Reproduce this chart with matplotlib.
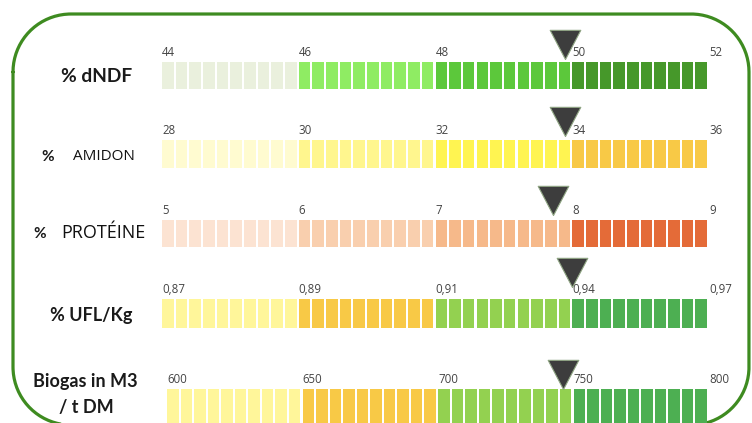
import numpy as np
import matplotlib
matplotlib.use("Agg")
import matplotlib.pyplot as plt
from matplotlib.transforms import ScaledTranslation

# ---------------- data ----------------
row_labels = ["% dNDF", "%  AMIDON", "%  PROTÉINE", "% UFL/Kg", "Biogas in M3\n/ t DM"]
tick_dndf = ["44", "46", "48", "50", "52"]
tick_amidon = ["28", "30", "32", "34", "36"]
tick_proteine = ["5", "6", "7", "8", "9"]
tick_ufl = ["0,87", "0,89", "0,91", "0,94", "0,97"]
tick_biogas = ["600", "650", "700", "750", "800"]
scale_dndf = [44, 46, 48, 50, 52]
scale_amidon = [28, 30, 32, 34, 36]
scale_proteine = [5, 6, 7, 8, 9]
scale_ufl = [0.87, 0.89, 0.91, 0.94, 0.97]
scale_biogas = [600, 650, 700, 750, 800]
values = [49.9, 33.9, 7.86, 0.94, 746]
colors_dndf = ["#EAF0DD", "#8FEC63", "#5CC83B", "#46982A"]
colors_amidon = ["#FFFBD0", "#FFF68E", "#FFF451", "#F8C946"]
colors_proteine = ["#FCE3D2", "#F9CFAE", "#F6B98A", "#E46B38"]
colors_ufl = ["#FFF69A", "#F8C946", "#93D150", "#4DAF52"]
colors_biogas = ["#FFF69A", "#F8C946", "#93D150", "#4DAF52"]
cells_per_segment = 10

ticks_all = [tick_dndf, tick_amidon, tick_proteine, tick_ufl, tick_biogas]
scales_all = [scale_dndf, scale_amidon, scale_proteine, scale_ufl, scale_biogas]
colors_all = [colors_dndf, colors_amidon, colors_proteine, colors_ufl, colors_biogas]

# ---------------- layout (pixels) ----------------
W, H = 752, 423
bar_x0 = [162, 162, 162, 162, 167]
bar_x1 = [709, 709, 709, 709, 709]
bar_top = [62, 140, 220, 299, 389]
bar_h = [27, 28, 27, 29, 34]
marker_gap = [3, 4, 5, 12, 0]

fig = plt.figure(figsize=(W / 100, H / 100), dpi=100)
bg = fig.add_axes([0, 0, 1, 1])
bg.set_xlim(0, W)
bg.set_ylim(H, 0)
bg.axis("off")

# rounded border built from quarter arcs
bx0, by0, bx1, by1, r = 13, 14, 749, 425, 58
def arc(cx, cy, a0, a1):
    t = np.linspace(np.radians(a0), np.radians(a1), 40)
    return cx + r * np.cos(t), cy + r * np.sin(t)
pieces = [arc(bx0 + r, by0 + r, 180, 270), arc(bx1 - r, by0 + r, 270, 360),
          arc(bx1 - r, by1 - r, 0, 90), arc(bx0 + r, by1 - r, 90, 180)]
px = np.concatenate([p[0] for p in pieces] + [pieces[0][0][:1]])
py = np.concatenate([p[1] for p in pieces] + [pieces[0][1][:1]])
bg.plot(px, py, color="#3E8B20", linewidth=2.3, solid_capstyle="round")

# row labels
bold_font = dict(family=["Lato", "DejaVu Sans"], fontweight="bold", color="#1a1a1a")
plain_font = dict(family=["Open Sans", "DejaVu Sans"], color="#111111")
bg.text(97, 76, "% dNDF", ha="center", va="center", fontsize=13.8, **bold_font)
bg.text(48, 157, "%", ha="center", va="center", fontsize=11, **bold_font)
bg.text(104, 157, "AMIDON", ha="center", va="center", fontsize=11, **plain_font)
bg.text(40, 234, "%", ha="center", va="center", fontsize=11, **bold_font)
bg.text(103, 233, "PROTÉINE", ha="center", va="center", fontsize=13, **plain_font)
bg.text(91, 316, "% UFL/Kg", ha="center", va="center", fontsize=13, **bold_font)
bg.text(85, 382, "Biogas in M3", ha="center", va="center", fontsize=13, **bold_font)
bg.text(86, 407, "/ t DM", ha="center", va="center", fontsize=13, **bold_font)

# marker: downward triangle with tip at the data point
tri = [(0, 0), (-1.05, 2), (1.05, 2), (0, 0)]

for i in range(len(row_labels)):
    x0, x1 = bar_x0[i], bar_x1[i]
    y0 = bar_top[i]
    h = bar_h[i]
    ax = fig.add_axes([x0 / W, 1 - (y0 + h) / H, (x1 - x0) / W, h / H])
    nseg = len(colors_all[i])
    ax.set_xlim(0, nseg)
    ax.set_ylim(0, 1)
    ax.axis("off")
    ncell = nseg * cells_per_segment
    cell_x = np.arange(ncell) / cells_per_segment
    cell_colors = [colors_all[i][k // cells_per_segment] for k in range(ncell)]
    ax.bar(cell_x, 1, width=0.85 / cells_per_segment, align="edge",
           color=cell_colors, edgecolor="none")
    for k, lbl in enumerate(ticks_all[i]):
        ax.annotate(lbl, (k, 1), xytext=(0, 2.5), textcoords="offset points",
                    ha="left", va="bottom", fontsize=8.3, color="#444444",
                    family=["Open Sans", "DejaVu Sans"], annotation_clip=False)
    pos = np.interp(values[i], scales_all[i], np.arange(len(scales_all[i])))
    ax.plot([pos], [1], marker=tri, markersize=42, color="#3d3d3d",
            markeredgecolor="#8fa583", markeredgewidth=0.8, clip_on=False,
            linestyle="none", zorder=5,
            transform=ax.transData + ScaledTranslation(0, marker_gap[i] / 100, fig.dpi_scale_trans))

fig.savefig("out.png", dpi=100)
